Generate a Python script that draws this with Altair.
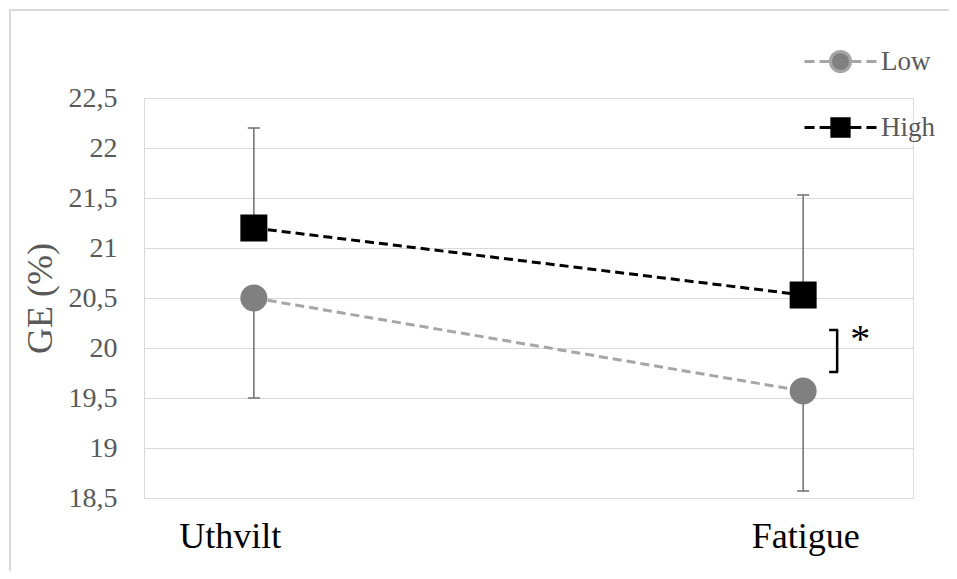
import altair as alt
import pandas as pd

# ---- data ----
conditions = ["Uthvilt", "Fatigue"]
series_names = ["Low", "High"]
low_mean = [20.5, 19.57]
low_err = [1.0, 1.0]     # drawn downward
high_mean = [21.2, 20.53]
high_err = [1.0, 1.0]    # drawn upward
y_ticks = [18.5, 19, 19.5, 20, 20.5, 21, 21.5, 22, 22.5]

# significance bracket annotation (at Fatigue)
bracket_top = [20.18]
bracket_bottom = [19.76]
star_y = [19.96]

rows = []
for i, c in enumerate(conditions):
    rows.append({"cond": c, "series": "Low", "mean": low_mean[i],
                 "end": low_mean[i] - low_err[i]})
    rows.append({"cond": c, "series": "High", "mean": high_mean[i],
                 "end": high_mean[i] + high_err[i]})
df = pd.DataFrame(rows)

ann = pd.DataFrame({"cond": ["Fatigue"], "top": bracket_top,
                    "bottom": bracket_bottom, "star": star_y})

FONT = "Liberation Serif"
GRID = "#d9d9d9"

xscale = alt.Scale(type="point", domain=conditions, padding=0.2)
yscale = alt.Scale(domain=[18.5, 22.5], nice=False, zero=False)
fill_scale = alt.Scale(domain=series_names, range=["#808080", "#000000"])
stroke_scale = alt.Scale(domain=series_names, range=["#A6A6A6", "#000000"])

low_path = ("M-1,0H-0.72M-0.58,0H-0.28M0.28,0H0.58M0.72,0H1"
            "M-0.28,0A0.28,0.28,0,1,0,0.28,0A0.28,0.28,0,1,0,-0.28,0Z")
high_path = ("M-1,0H-0.72M-0.58,0H-0.24M0.24,0H0.58M0.72,0H1"
             "M-0.24,-0.24H0.24V0.24H-0.24Z")
shape_scale = alt.Scale(domain=series_names, range=[low_path, high_path])

x_enc = alt.X("cond:N", scale=xscale, sort=conditions,
              axis=alt.Axis(title=None, ticks=False, domainColor=GRID, domainWidth=1,
                            labelFont=FONT, labelFontSize=36, labelColor="#000000",
                            labelBaseline="alphabetic", labelPadding=49, labelAngle=0,
                            labelOffset={"condition": {"test": "datum.value === 'Uthvilt'",
                                                       "value": -24},
                                         "value": 2},
                            grid=False))
y_enc = alt.Y("mean:Q", scale=yscale,
              axis=alt.Axis(title="GE (%)", values=y_ticks, ticks=False,
                            labelExpr="replace(toString(datum.value), '.', ',')",
                            labelFont=FONT, labelFontSize=28, labelColor="#595959",
                            labelPadding=27, domainColor=GRID, domainWidth=1,
                            grid=True, gridColor=GRID, gridWidth=1.2,
                            titleFont=FONT, titleFontSize=36, titleFontWeight="normal",
                            titleColor="#595959", titleX=-104, titleY=200,
                            titleAngle=270, titleAlign="center", titleBaseline="middle"))
x_plain = alt.X("cond:N", scale=xscale, sort=conditions)

is_low = "datum.series === 'Low'"
base = alt.Chart(df)

one = pd.DataFrame({"a": [0]})
frame_top = alt.Chart(one).mark_rule(stroke=GRID, strokeWidth=2, clip=False).encode(
    x=alt.value(-134), x2=alt.value(2000), y=alt.value(-88))
frame_left = alt.Chart(one).mark_rule(stroke=GRID, strokeWidth=2, clip=False).encode(
    x=alt.value(-134), y=alt.value(-89), y2=alt.value(2000))

errbars = base.mark_rule(color="#767676", strokeWidth=1.6).encode(
    x=x_enc, y=y_enc, y2="end:Q")
caps = base.mark_tick(color="#767676", thickness=1.6, size=12, orient="horizontal",
                      opacity=1).encode(
    x=x_plain, y=alt.Y("end:Q", scale=yscale))

lines = base.mark_line(strokeWidth=3, strokeDash=[9, 5]).encode(
    x=x_plain,
    y=alt.Y("mean:Q", scale=yscale),
    stroke=alt.condition(is_low, alt.value("#A6A6A6"), alt.value("#000000")),
    detail="series:N")

points = base.mark_point(filled=True, size=729, opacity=1, strokeWidth=0).encode(
    x=x_plain,
    y=alt.Y("mean:Q", scale=yscale),
    fill=alt.condition(is_low, alt.value("#808080"), alt.value("#000000")),
    shape=alt.condition(is_low, alt.value("circle"), alt.value("square")))

legend_def = alt.Legend(
    title=None, orient="none", legendX=659, legendY=-74, padding=0,
    symbolSize=5184, symbolStrokeWidth=3, rowPadding=12, labelOffset=3,
    labelFont=FONT, labelFontSize=27, labelColor="#595959")

legend_layer = base.transform_filter("false").mark_point(
    filled=True, opacity=1, size=5184, strokeWidth=3).encode(
    x=x_plain,
    y=alt.Y("mean:Q", scale=yscale),
    fill=alt.Fill("series:N", scale=fill_scale, legend=legend_def),
    stroke=alt.Stroke("series:N", scale=stroke_scale, legend=legend_def),
    shape=alt.Shape("series:N", scale=shape_scale, legend=legend_def))

annb = alt.Chart(ann)
br_v = annb.mark_rule(color="#000000", strokeWidth=2.5, xOffset=34).encode(
    x=x_plain, y=alt.Y("top:Q", scale=yscale), y2="bottom:Q")
br_t = annb.mark_rule(color="#000000", strokeWidth=2.5, xOffset=26, x2Offset=35).encode(
    x=x_plain, x2="cond:N", y=alt.Y("top:Q", scale=yscale))
br_b = annb.mark_rule(color="#000000", strokeWidth=2.5, xOffset=26, x2Offset=35).encode(
    x=x_plain, x2="cond:N", y=alt.Y("bottom:Q", scale=yscale))
star = annb.mark_text(text="*", font=FONT, fontSize=40, dx=57, align="center",
                      baseline="alphabetic", color="#000000").encode(
    x=x_plain, y=alt.Y("star:Q", scale=yscale))

chart = alt.layer(frame_top, frame_left, errbars, caps, lines, points, legend_layer,
                  br_v, br_t, br_b, star).properties(
    width=769, height=400,
    autosize=alt.AutoSizeParams(type="none"),
    padding={"left": 136, "top": 90, "right": 36, "bottom": 73},
).configure_view(stroke=None).configure(background="white")

chart.save("out.html", embed_options={"renderer": "svg", "actions": False})
